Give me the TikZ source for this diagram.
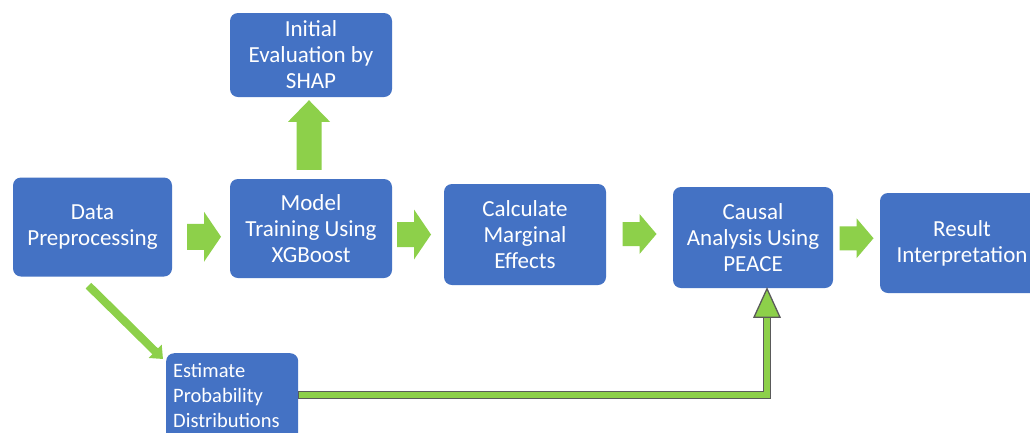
\documentclass[tikz,border=0pt]{standalone}
\usepackage{fontspec}
\setmainfont{Carlito}
\usetikzlibrary{arrows.meta,calc}
\definecolor{boxblue}{HTML}{4472C4}
\definecolor{arrgreen}{HTML}{8DD04A}
\definecolor{edgegray}{HTML}{5A5A5A}
\tikzset{
  stepbox/.style={fill=boxblue, rounded corners=8pt, text=white, align=center,
    inner sep=0pt, font=\fontsize{23}{26}\selectfont},
  rarrow/.pic={\fill[arrgreen] (-17,-#1) -- (0,-#1) -- (0,-25) -- (17,0) -- (0,25) -- (0,#1) -- (-17,#1) -- cycle;},
  rarrowsm/.pic={\fill[arrgreen] (-17,-12) -- (0,-12) -- (0,-20) -- (17,0) -- (0,20) -- (0,12) -- (-17,12) -- cycle;},
}
\begin{document}
\begin{tikzpicture}[x=1pt,y=-1pt]
\clip (0,0) rectangle (1030,432);
\fill[white] (0,0) rectangle (1030,432);

\node[stepbox, minimum width=159, minimum height=99] (dp) at (92.5,227) {Data\\Preprocessing};
\node[stepbox, minimum width=162, minimum height=99] (mt) at (311,228.5) {Model\\Training Using\\XGBoost};
\node[stepbox, minimum width=162, minimum height=84] (ie) at (311,55) {Initial\\Evaluation by\\SHAP};
\node[stepbox, minimum width=162, minimum height=101] (cme) at (525,234.5) {Calculate\\Marginal\\Effects};
\node[stepbox, minimum width=160, minimum height=101] (ca) at (753,237.5) {Causal\\Analysis Using\\PEACE};
\node[stepbox, minimum width=164, minimum height=100] (ri) at (962,243) {Result\\Interpretation};
\node[stepbox, anchor=north west, minimum width=132, minimum height=90] (est) at (166,353) {};
\node[anchor=north west, align=left, text=white, inner sep=0pt,
  font=\fontsize{20.5}{25}\selectfont] (esttext) at ($(est.north west)+(7,10.5)$)
  {Estimate\\Probability\\Distributions};

% block arrows between steps
\pic at ($(dp.east)!.5!(mt.west)+(3,9)$) {rarrow=13};
\pic at ($(mt.east)!.5!(cme.west)+(-4,3)$) {rarrow=12.5};
\pic at ($(cme.east)!.5!(ca.west)+(0,-2)$) {rarrowsm};
\pic at ($(ca.east)!.5!(ri.west)+(0,-2)$) {rarrowsm};

% up arrow to SHAP
\coordinate (upbase) at ($(mt.north)+(-2,-9)$);
\fill[arrgreen] ($(upbase)+(-12.5,0)$) -- ++(0,-48) -- ++(-8.5,0) -- ($(ie.south)+(-2,3)$)
  -- ($(upbase)+(21,-48)$) -- ++(-8.5,0) -- ++(0,48) -- cycle;

% diagonal arrow
\draw[arrgreen, line width=8pt, -{Triangle[length=11pt,width=18pt]}]
  ($(dp.south)+(-4,9)$) -- ($(est.north west)+(-3,6)$);

% outlined arrow from estimate to causal analysis
\coordinate (corner) at ($(ca.south)+(14,0)$);
\coordinate (hbeg) at ($(est.north east)+(0,42)$);
\draw[edgegray, line width=8.5pt] (hbeg) -- (hbeg -| corner) -- ($(corner)+(0,30)$);
\draw[arrgreen, line width=5.5pt] ($(hbeg)+(1,0)$) -- (hbeg -| corner) -- ($(corner)+(0,29)$);
\filldraw[fill=arrgreen, draw=edgegray, line width=1.3pt]
  ($(corner)+(-13,29)$) -- ($(corner)+(0,0.5)$) -- ($(corner)+(13,29)$) -- cycle;
\end{tikzpicture}
\end{document}
